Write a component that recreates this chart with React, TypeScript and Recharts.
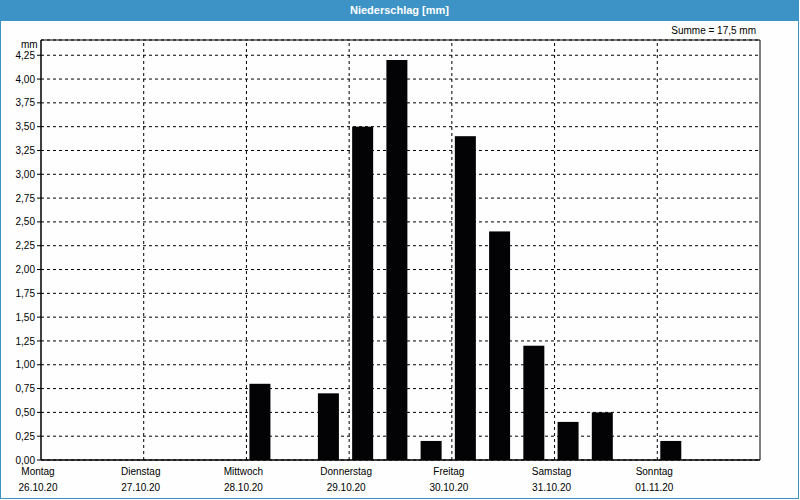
import { BarChart, Bar, XAxis, YAxis, CartesianGrid, ReferenceArea, ReferenceLine } from 'recharts';

// 8-hour slots, Monday 26.10.20 to Sunday 01.11.20
const SLOTS = [
  'Mo 00', 'Mo 08', 'Mo 16',
  'Di 00', 'Di 08', 'Di 16',
  'Mi 00', 'Mi 08', 'Mi 16',
  'Do 00', 'Do 08', 'Do 16',
  'Fr 00', 'Fr 08', 'Fr 16',
  'Sa 00', 'Sa 08', 'Sa 16',
  'So 00', 'So 08', 'So 16',
];
const RAIN = [
  0, 0, 0,
  0, 0, 0,
  0.8, 0, 0.7,
  3.5, 4.2, 0.2,
  3.4, 2.4, 1.2,
  0.4, 0.5, 0,
  0.2, 0, 0,
];
const DAY_STARTS = ['Mo 00', 'Di 00', 'Mi 00', 'Do 00', 'Fr 00', 'Sa 00', 'So 00'];
const DAYS = ['Montag', 'Dienstag', 'Mittwoch', 'Donnerstag', 'Freitag', 'Samstag', 'Sonntag'];
const DATES = ['26.10.20', '27.10.20', '28.10.20', '29.10.20', '30.10.20', '31.10.20', '01.11.20'];
const Y_TICKS = [0, 0.25, 0.5, 0.75, 1, 1.25, 1.5, 1.75, 2, 2.25, 2.5, 2.75, 3, 3.25, 3.5, 3.75, 4, 4.25];
const Y_MAX = 4.41;

const data = SLOTS.map((slot, i) => ({ slot, value: RAIN[i] }));

const FONT = '"Liberation Sans", Arial, sans-serif';
const BLUE = '#3d93c5';

const fmt = (v: number) => v.toFixed(2).replace('.', ',');

// label sits at the start of the day (left edge of its first slot)
function DayTick({ x, y, payload }: any) {
  const i = DAY_STARTS.indexOf(payload.value);
  const cx = x - (payload.offset || 0) - 3;
  return (
    <g>
      <text x={cx} y={y} dy={11} textAnchor="middle" fontSize={10} fontFamily={FONT} fill="#000">
        {DAYS[i]}
      </text>
      <text x={cx} y={y} dy={27} textAnchor="middle" fontSize={10} fontFamily={FONT} fill="#000">
        {DATES[i]}
      </text>
    </g>
  );
}

// bars sit slightly left in their 8h slot
function SlotBar(props: any) {
  const { x, y, width, height } = props;
  if (!height || height <= 0) return null;
  return <rect x={x - 4} y={y} width={width} height={height} fill="#030205" />;
}

export default function App() {
  return (
    <div
      style={{
        position: 'fixed',
        left: 0,
        top: 0,
        width: 799,
        height: 499,
        boxSizing: 'border-box',
        border: `1px solid ${BLUE}`,
        background: '#fdfefd',
        fontFamily: FONT,
      }}
    >
      <div
        style={{
          position: 'absolute',
          left: 0,
          top: 0,
          width: '100%',
          height: 20,
          background: BLUE,
          color: '#fff',
          fontSize: 11,
          fontWeight: 'bold',
          textAlign: 'center',
          lineHeight: '18px',
        }}
      >
        Niederschlag [mm]
      </div>
      <div style={{ position: 'absolute', right: 42, top: 24, fontSize: 10, color: '#000' }}>
        Summe = 17,5 mm
      </div>
      <div style={{ position: 'absolute', left: 20, top: 38, fontSize: 10, color: '#000' }}>mm</div>
      <div style={{ position: 'absolute', left: -1, top: -1 }}>
        <BarChart width={800} height={500} data={data} margin={{ top: 40, right: 40, bottom: 0, left: 0 }}>
          <CartesianGrid stroke="#000" strokeDasharray="3 3" vertical={false} />
          <XAxis
            dataKey="slot"
            ticks={DAY_STARTS}
            interval={0}
            height={40}
            tickSize={4}
            tickMargin={0}
            axisLine={{ stroke: '#000' }}
            tickLine={false}
            tick={<DayTick />}
          />
          <YAxis
            domain={[0, Y_MAX]}
            ticks={Y_TICKS}
            allowDataOverflow
            width={41}
            tickSize={4}
            tickMargin={2}
            tickFormatter={fmt}
            axisLine={{ stroke: '#000' }}
            tickLine={{ stroke: '#000' }}
            tick={{ fill: '#000', fontSize: 10, fontFamily: FONT }}
          />
          {DAY_STARTS.slice(1).map((d) => (
            <ReferenceLine key={d} x={d} position="start" stroke="#000" strokeDasharray="3 3" />
          ))}
          <ReferenceArea y1={0} y2={Y_MAX} fill="none" stroke="#000" strokeWidth={1} />
          <Bar dataKey="value" barSize={21} shape={<SlotBar />} isAnimationActive={false} />
        </BarChart>
      </div>
    </div>
  );
}
